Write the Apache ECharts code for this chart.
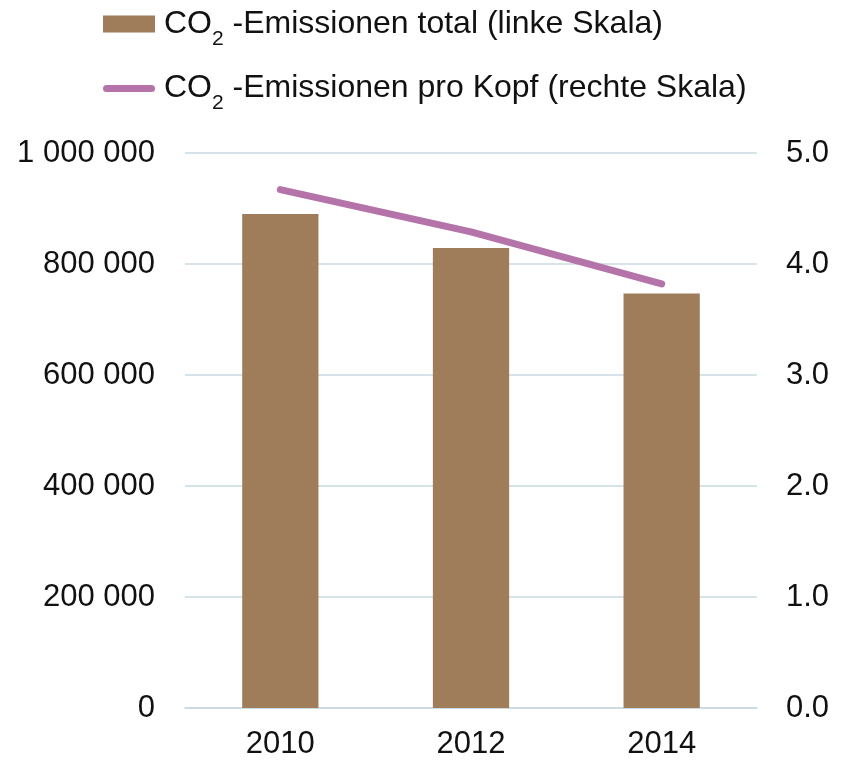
<!DOCTYPE html>
<html>
<head>
<meta charset="utf-8">
<script src="https://cdn.jsdelivr.net/npm/echarts@6/dist/echarts.min.js"></script>
<style>
    html, body { margin: 0; padding: 0; background: #fff; }
    #chart { width: 846px; height: 762px; }
</style>
</head>
<body>
<div id="chart"></div>
<script>
// 数据
var years = ['2010', '2012', '2014'];
var totalEmissions = [890000, 829000, 747000];   // linke Skala
var perCapita = [4.67, 4.29, 3.82];              // rechte Skala
var leftTicks = { min: 0, max: 1000000, interval: 200000 };
var rightTicks = { min: 0, max: 5, interval: 1 };

var fontFamily = "'Liberation Sans', Arial, sans-serif";
var gridColor = '#C8DAE1';
var lineColor = '#B474AA';

// Legendensymbol: dicke Linie mit runden Enden (Box 52 x 17)
var pillIcon = 'path://M0,0 M52,17 M3.5,5 L48.5,5 A3.5,3.5 0 0 1 48.5,12 L3.5,12 A3.5,3.5 0 0 1 3.5,5 Z';

function spaceThousands(v) {
    return String(v).replace(/\B(?=(\d{3})+(?!\d))/g, ' ');
}

var myChart = echarts.init(document.getElementById('chart'));

var options = {
    animation: false,
    textStyle: { fontFamily: fontFamily },
    legend: {
        orient: 'vertical',
        left: 98,
        top: 3,
        itemWidth: 52,
        itemHeight: 17,
        itemGap: 23,
        data: [
            { name: 'CO2 -Emissionen total (linke Skala)', icon: 'rect' },
            { name: 'CO2 -Emissionen pro Kopf (rechte Skala)', icon: pillIcon, itemStyle: { color: lineColor } }
        ],
        formatter: function (name) {
            return name.replace('CO2', 'CO{sub|2}');
        },
        textStyle: {
            color: '#111',
            fontSize: 32,
            fontFamily: fontFamily,
            padding: [0, 0, 0, 4],
            rich: {
                sub: {
                    fontSize: 21,
                    color: '#111',
                    fontFamily: fontFamily,
                    padding: [30, 0, 0, 0]
                }
            }
        }
    },
    grid: {
        left: 185,
        right: 89,
        top: 153,
        bottom: 54,
        containLabel: false,
        outerBoundsMode: 'none'
    },
    xAxis: {
        type: 'category',
        data: years,
        axisTick: { show: false },
        axisLine: {
            show: true,
            lineStyle: { color: gridColor, width: 1.5 }
        },
        axisLabel: {
            color: '#111',
            fontSize: 31,
            margin: 21
        }
    },
    yAxis: [
        {
            type: 'value',
            min: leftTicks.min,
            max: leftTicks.max,
            interval: leftTicks.interval,
            axisLine: { show: false },
            axisTick: { show: false },
            splitLine: { lineStyle: { color: gridColor, width: 1.5 } },
            axisLabel: {
                color: '#111',
                fontSize: 31,
                margin: 30,
                formatter: spaceThousands
            }
        },
        {
            type: 'value',
            min: rightTicks.min,
            max: rightTicks.max,
            interval: rightTicks.interval,
            axisLine: { show: false },
            axisTick: { show: false },
            splitLine: { show: false },
            axisLabel: {
                color: '#111',
                fontSize: 31,
                margin: 29,
                formatter: function (v) { return v.toFixed(1); }
            }
        }
    ],
    series: [
        {
            name: 'CO2 -Emissionen total (linke Skala)',
            type: 'bar',
            yAxisIndex: 0,
            barWidth: '40%',
            data: totalEmissions,
            itemStyle: { color: '#9F7C5A' }
        },
        {
            name: 'CO2 -Emissionen pro Kopf (rechte Skala)',
            type: 'line',
            yAxisIndex: 1,
            data: perCapita,
            symbol: 'none',
            z: 5,
            lineStyle: { color: lineColor, width: 7, cap: 'round', join: 'round' },
            itemStyle: { color: lineColor }
        }
    ]
};

// 绘制图表
myChart.setOption(options);
</script>
</body>
</html>
